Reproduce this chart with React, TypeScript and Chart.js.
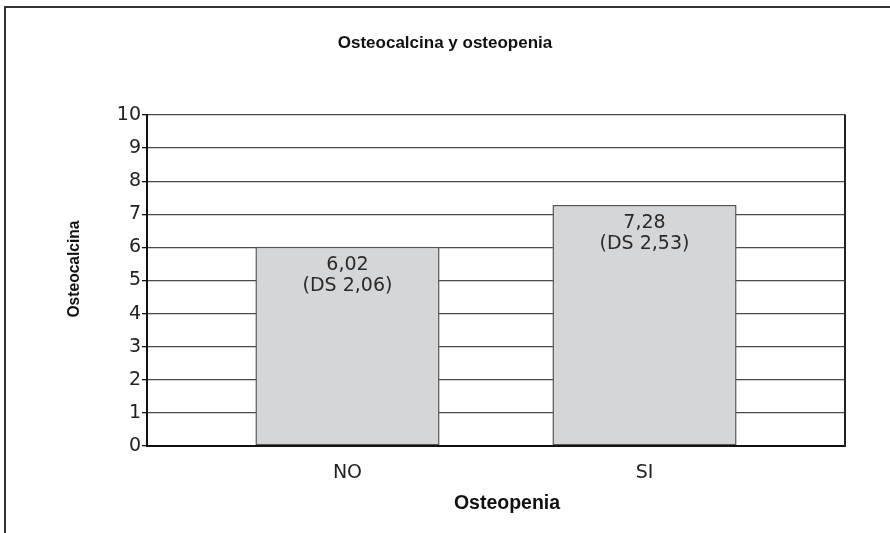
import { useEffect, useRef } from 'react';
import { Chart, registerables } from 'chart.js';

Chart.register(...registerables);

const categories = ['NO', 'SI'];
const means = [6.02, 7.28];
const sds = [2.06, 2.53];
const yMin = 0;
const yMax = 10;
const yStep = 1;
const chartTitle = 'Osteocalcina y osteopenia';
const xTitle = 'Osteopenia';
const yTitle = 'Osteocalcina';

const fmt = (v: number) => v.toFixed(2).replace('.', ',');

const tickFont = { family: '"DejaVu Sans", "Liberation Sans", sans-serif', size: 19 };

const decor = {
  id: 'decor',
  beforeDraw(chart: any) {
    const { ctx, width, height } = chart;
    ctx.save();
    ctx.fillStyle = '#ffffff';
    ctx.fillRect(0, 0, width, height);
    ctx.strokeStyle = '#333333';
    ctx.lineWidth = 2;
    ctx.beginPath();
    ctx.moveTo(5, height);
    ctx.lineTo(5, 7);
    ctx.lineTo(width, 7);
    ctx.stroke();
    ctx.restore();
  },
  afterDatasetsDraw(chart: any) {
    const { ctx } = chart;
    const meta = chart.getDatasetMeta(0);
    ctx.save();
    ctx.fillStyle = '#2a2a2a';
    ctx.font = '19px "DejaVu Sans", "Liberation Sans", sans-serif';
    ctx.textAlign = 'center';
    ctx.textBaseline = 'alphabetic';
    meta.data.forEach((el: any, i: number) => {
      ctx.fillText(fmt(means[i]), el.x, el.y + 23);
      ctx.fillText('(DS ' + fmt(sds[i]) + ')', el.x, el.y + 44);
    });
    ctx.restore();
  },
  afterDraw(chart: any) {
    const { ctx, chartArea, width } = chart;
    ctx.save();
    // right plot border
    ctx.strokeStyle = '#222222';
    ctx.lineWidth = 2;
    ctx.beginPath();
    ctx.moveTo(chartArea.right, chartArea.top - 0.5);
    ctx.lineTo(chartArea.right, chartArea.bottom + 1);
    ctx.stroke();

    ctx.fillStyle = '#111111';
    ctx.textAlign = 'center';
    ctx.textBaseline = 'alphabetic';
    ctx.font = 'bold 17px "Liberation Sans", Arial, sans-serif';
    ctx.fillText(chartTitle, width / 2, 48);

    ctx.font = 'bold 19.5px "Liberation Sans", Arial, sans-serif';
    ctx.fillText(xTitle, chartArea.left + 360, 509);

    ctx.font = 'bold 15.6px "Liberation Sans", Arial, sans-serif';
    ctx.translate(79, chartArea.top + 154);
    ctx.rotate(-Math.PI / 2);
    ctx.fillText(yTitle, 0, 0);
    ctx.restore();
  },
};

export default function App() {
  const ref = useRef<HTMLCanvasElement>(null);

  useEffect(() => {
    if (!ref.current) return;
    const chart = new Chart(ref.current, {
      type: 'bar',
      data: {
        datasets: [
          {
            data: categories.map((_, i) => ({ x: i, y: means[i] })),
            backgroundColor: '#d5d6d8',
            borderColor: '#555555',
            borderWidth: 1.5,
            borderSkipped: false,
            barPercentage: 0.62,
            categoryPercentage: 1,
          },
        ],
      },
      options: {
        responsive: false,
        animation: false,
        layout: { padding: { left: 0, top: 115, right: 45, bottom: 0 } },
        plugins: {
          legend: { display: false },
          tooltip: { enabled: false },
          title: { display: false },
        },
        scales: {
          x: {
            type: 'linear',
            offset: false,
            min: -0.675,
            max: categories.length - 1 + 0.675,
            afterBuildTicks: (s: any) => {
              s.ticks = categories.map((_, i) => ({ value: i }));
            },
            afterFit: (s: any) => {
              s.height = 87;
            },
            grid: { display: false },
            border: { display: true, color: '#111111', width: 2 },
            ticks: {
              callback: (v: any) => categories[v] ?? '',
              font: tickFont,
              color: '#222222',
              padding: 8,
              maxRotation: 0,
              autoSkip: false,
            },
          },
          y: {
            min: yMin,
            max: yMax,
            afterFit: (s: any) => {
              s.width = 147;
            },
            ticks: { stepSize: yStep, font: tickFont, color: '#222222', padding: 1 },
            grid: { color: '#4a4a4a', lineWidth: 1.3, tickLength: 5, tickColor: '#111111' },
            border: { color: '#111111', width: 2 },
          },
        },
      },
      plugins: [decor],
    } as any);
    return () => chart.destroy();
  }, []);

  return (
    <div style={{ position: 'fixed', left: 0, top: 0, width: 890, height: 533, background: '#fff' }}>
      <canvas ref={ref} width={890} height={533} style={{ display: 'block' }} />
    </div>
  );
}
